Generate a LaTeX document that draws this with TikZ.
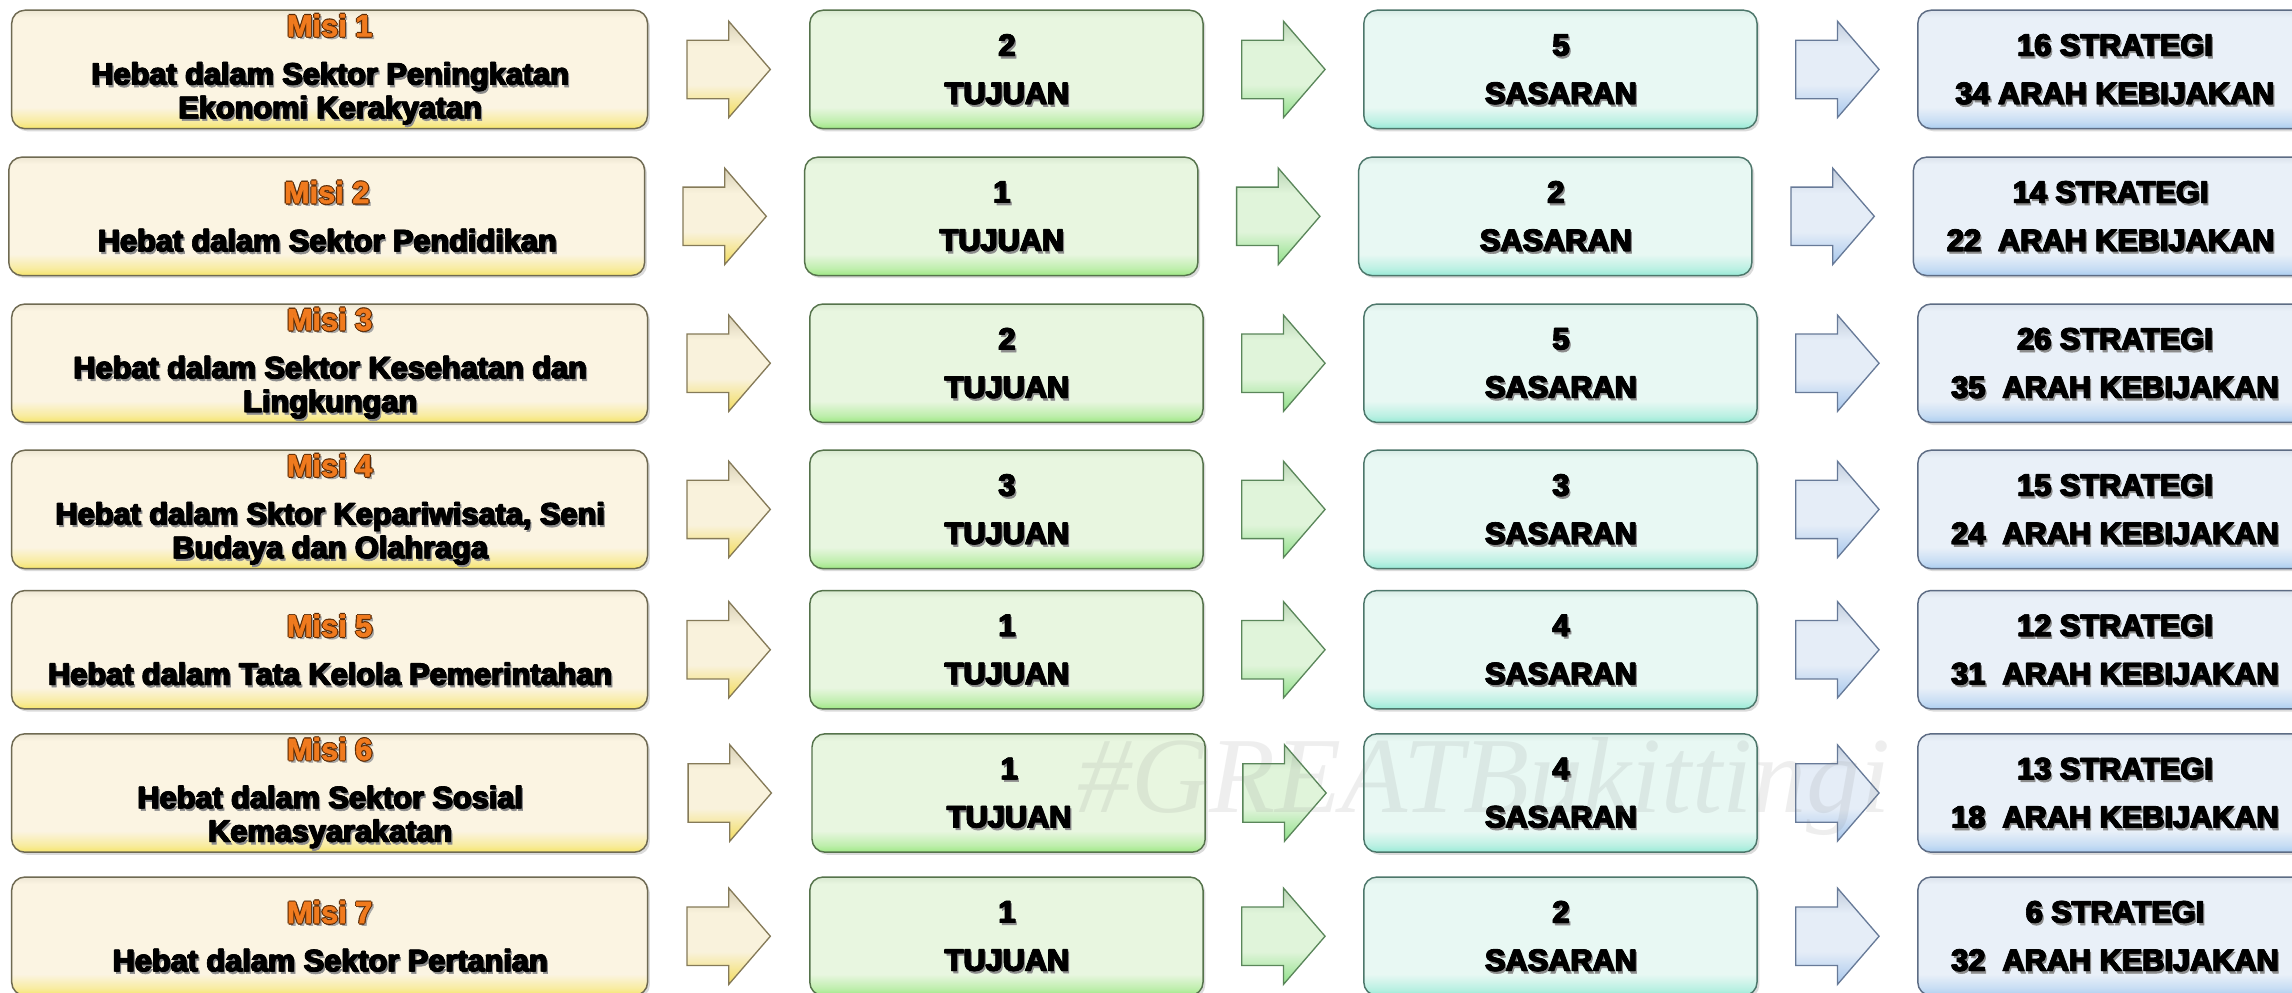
\documentclass[tikz,border=0pt]{standalone}
\usepackage{fontspec}
\setmainfont{Liberation Sans}
\newfontfamily\hv{Liberation Sans Bold}[FakeBold=2]
\newfontfamily\wmfont{Liberation Serif}
\usetikzlibrary{calc,shadows}

\definecolor{misiFill}{HTML}{FBF4E2}
\definecolor{misiGlow}{HTML}{F6E56A}
\definecolor{misiLine}{HTML}{6F6A52}
\definecolor{misiOrange}{HTML}{F07A1E}
\definecolor{misiOutline}{HTML}{5A2A05}
\definecolor{tujFill}{HTML}{E8F6E0}
\definecolor{tujGlow}{HTML}{9EE884}
\definecolor{tujLine}{HTML}{55734B}
\definecolor{sasFill}{HTML}{E8F8F3}
\definecolor{sasGlow}{HTML}{98EAD6}
\definecolor{sasLine}{HTML}{4D776B}
\definecolor{strFill}{HTML}{E9F0F8}
\definecolor{strGlow}{HTML}{ABCDF0}
\definecolor{strLine}{HTML}{5D6C84}
\definecolor{yaFill}{HTML}{F9F2DC}
\definecolor{yaGlow}{HTML}{F2DC5C}
\definecolor{yaLine}{HTML}{857A58}
\definecolor{gaFill}{HTML}{E0F4DA}
\definecolor{gaGlow}{HTML}{8FE088}
\definecolor{gaLine}{HTML}{5A865A}
\definecolor{baFill}{HTML}{E5EDF7}
\definecolor{baGlow}{HTML}{A6C6EC}
\definecolor{baLine}{HTML}{677A98}

% the path covers 25bp (bottom) .. 75bp (top) of a shading
\pgfdeclareverticalshading{shMisi}{100bp}{color(0bp)=(misiGlow); color(25bp)=(misiGlow); color(28bp)=(misiGlow!55!misiFill); color(34bp)=(misiFill); color(72bp)=(misiFill); color(75bp)=(misiFill!90!misiLine); color(100bp)=(misiFill!90!misiLine)}
\pgfdeclareverticalshading{shTuj}{100bp}{color(0bp)=(tujGlow); color(25bp)=(tujGlow); color(28bp)=(tujGlow!55!tujFill); color(34bp)=(tujFill); color(72bp)=(tujFill); color(75bp)=(tujFill!90!tujLine); color(100bp)=(tujFill!90!tujLine)}
\pgfdeclareverticalshading{shSas}{100bp}{color(0bp)=(sasGlow); color(25bp)=(sasGlow); color(28bp)=(sasGlow!55!sasFill); color(34bp)=(sasFill); color(72bp)=(sasFill); color(75bp)=(sasFill!90!sasLine); color(100bp)=(sasFill!90!sasLine)}
\pgfdeclareverticalshading{shStr}{100bp}{color(0bp)=(strGlow); color(25bp)=(strGlow); color(28bp)=(strGlow!55!strFill); color(34bp)=(strFill); color(72bp)=(strFill); color(75bp)=(strFill!90!strLine); color(100bp)=(strFill!90!strLine)}
\pgfdeclareverticalshading{shYa}{100bp}{color(0bp)=(yaGlow); color(25bp)=(yaGlow); color(42bp)=(yaFill); color(62bp)=(yaFill); color(75bp)=(yaFill!72!yaLine); color(100bp)=(yaFill!72!yaLine)}
\pgfdeclareverticalshading{shGa}{100bp}{color(0bp)=(gaGlow); color(25bp)=(gaGlow); color(42bp)=(gaFill); color(62bp)=(gaFill); color(75bp)=(gaFill!72!gaLine); color(100bp)=(gaFill!72!gaLine)}
\pgfdeclareverticalshading{shBa}{100bp}{color(0bp)=(baGlow); color(25bp)=(baGlow); color(42bp)=(baFill); color(62bp)=(baFill); color(75bp)=(baFill!72!baLine); color(100bp)=(baFill!72!baLine)}

\newcommand\shd[1]{\leavevmode
  \rlap{\kern1.6pt\raisebox{-1.6pt}[0pt][0pt]{\textcolor{black!45}{#1}}}%
  \rlap{\kern0.8pt#1}\rlap{\kern0.4pt\raisebox{0.3pt}[0pt][0pt]{#1}}#1}
\newcommand\misilbl[1]{\leavevmode
  \rlap{\kern1.6pt\raisebox{-1.6pt}[0pt][0pt]{\textcolor{black!35}{#1}}}%
  \rlap{\kern-0.8pt\textcolor{misiOutline}{#1}}%
  \rlap{\kern0.8pt\textcolor{misiOutline}{#1}}%
  \rlap{\raisebox{0.8pt}[0pt][0pt]{\textcolor{misiOutline}{#1}}}%
  \rlap{\raisebox{-0.8pt}[0pt][0pt]{\textcolor{misiOutline}{#1}}}%
  \textcolor{misiOrange}{#1}}
\newcommand\blockarrow[3]{%
  \path[#3, shift={($(#1.east)!0.5!(#2.west)$)}]
    (-28.5,-20) -- (0,-20) -- (0,-33) -- (28.5,0) -- (0,33) -- (0,20) -- (-28.5,20) -- cycle;}

\tikzset{
  box/.style={rounded corners=9pt, inner sep=0pt, minimum height=81pt,
    line width=1pt, shade,
    drop shadow={shadow xshift=1.6pt, shadow yshift=-1.8pt, opacity=0.28},
    font=\hv\fontsize{21}{23}\selectfont, align=center, text=black},
  misibox/.style={box, minimum width=435pt, shading=shMisi, draw=misiLine},
  tujbox/.style={box, minimum width=269pt, shading=shTuj, draw=tujLine},
  sasbox/.style={box, minimum width=269pt, shading=shSas, draw=sasLine},
  strbox/.style={box, minimum width=269pt, shading=shStr, draw=strLine},
  yarrow/.style={shade, shading=shYa, draw=yaLine, line width=0.9pt},
  garrow/.style={shade, shading=shGa, draw=gaLine, line width=0.9pt},
  barrow/.style={shade, shading=shBa, draw=baLine, line width=0.9pt},
}

\begin{document}
\begin{tikzpicture}[x=1pt, y=-1pt]
\useasboundingbox (0,0) rectangle (1568,679);
\fill[white] (0,0) rectangle (1568,679);

% Row 1
\node[misibox] (m1) at (225.5,47.5) {\misilbl{Misi 1}\\[10pt]\shd{Hebat dalam Sektor Peningkatan}\\\shd{Ekonomi Kerakyatan}};
\node[tujbox] (t1) at (688.5,47.5) {\shd{2}\\[10pt]\shd{TUJUAN}};
\node[sasbox] (s1) at (1067.5,47.5) {\shd{5}\\[10pt]\shd{SASARAN}};
\node[strbox] (g1) at (1446.5,47.5) {\shd{16 STRATEGI}\\[10pt]\shd{34 ARAH KEBIJAKAN}};

% Row 2
\node[misibox] (m2) at (223.5,148) {\misilbl{Misi 2}\\[10pt]\shd{Hebat dalam Sektor Pendidikan}};
\node[tujbox] (t2) at (685,148) {\shd{1}\\[10pt]\shd{TUJUAN}};
\node[sasbox] (s2) at (1064,148) {\shd{2}\\[10pt]\shd{SASARAN}};
\node[strbox] (g2) at (1443.5,148) {\shd{14 STRATEGI}\\[10pt]\shd{22\ \ ARAH KEBIJAKAN}};

% Row 3
\node[misibox] (m3) at (225.5,248.5) {\misilbl{Misi 3}\\[10pt]\shd{Hebat dalam Sektor Kesehatan dan}\\\shd{Lingkungan}};
\node[tujbox] (t3) at (688.5,248.5) {\shd{2}\\[10pt]\shd{TUJUAN}};
\node[sasbox] (s3) at (1067.5,248.5) {\shd{5}\\[10pt]\shd{SASARAN}};
\node[strbox] (g3) at (1446.5,248.5) {\shd{26 STRATEGI}\\[10pt]\shd{35\ \ ARAH KEBIJAKAN}};

% Row 4
\node[misibox] (m4) at (225.5,348.5) {\misilbl{Misi 4}\\[10pt]\shd{Hebat dalam Sktor Kepariwisata, Seni}\\\shd{Budaya dan Olahraga}};
\node[tujbox] (t4) at (688.5,348.5) {\shd{3}\\[10pt]\shd{TUJUAN}};
\node[sasbox] (s4) at (1067.5,348.5) {\shd{3}\\[10pt]\shd{SASARAN}};
\node[strbox] (g4) at (1446.5,348.5) {\shd{15 STRATEGI}\\[10pt]\shd{24\ \ ARAH KEBIJAKAN}};

% Row 5
\node[misibox] (m5) at (225.5,444.5) {\misilbl{Misi 5}\\[10pt]\shd{Hebat dalam Tata Kelola Pemerintahan}};
\node[tujbox] (t5) at (688.5,444.5) {\shd{1}\\[10pt]\shd{TUJUAN}};
\node[sasbox] (s5) at (1067.5,444.5) {\shd{4}\\[10pt]\shd{SASARAN}};
\node[strbox] (g5) at (1446.5,444.5) {\shd{12 STRATEGI}\\[10pt]\shd{31\ \ ARAH KEBIJAKAN}};

% Row 6
\node[misibox] (m6) at (225.5,542.5) {\misilbl{Misi 6}\\[10pt]\shd{Hebat dalam Sektor Sosial}\\\shd{Kemasyarakatan}};
\node[tujbox] (t6) at (690,542.5) {\shd{1}\\[10pt]\shd{TUJUAN}};
\node[sasbox] (s6) at (1067.5,542.5) {\shd{4}\\[10pt]\shd{SASARAN}};
\node[strbox] (g6) at (1446.5,542.5) {\shd{13 STRATEGI}\\[10pt]\shd{18\ \ ARAH KEBIJAKAN}};

% Row 7
\node[misibox] (m7) at (225.5,640.5) {\misilbl{Misi 7}\\[10pt]\shd{Hebat dalam Sektor Pertanian}};
\node[tujbox] (t7) at (688.5,640.5) {\shd{1}\\[10pt]\shd{TUJUAN}};
\node[sasbox] (s7) at (1067.5,640.5) {\shd{2}\\[10pt]\shd{SASARAN}};
\node[strbox] (g7) at (1446.5,640.5) {\shd{6 STRATEGI}\\[10pt]\shd{32\ \ ARAH KEBIJAKAN}};

% Arrows
\foreach \i in {1,...,7}{
  \blockarrow{m\i}{t\i}{yarrow}
  \blockarrow{t\i}{s\i}{garrow}
  \blockarrow{s\i}{g\i}{barrow}
}

% watermark (faint, over the boxes)
\node[font=\wmfont\itshape\fontsize{74}{74}\selectfont, text=gray, opacity=0.13] (wm) at (1015,538) {\#GREATBukittingi};
\end{tikzpicture}
\end{document}
